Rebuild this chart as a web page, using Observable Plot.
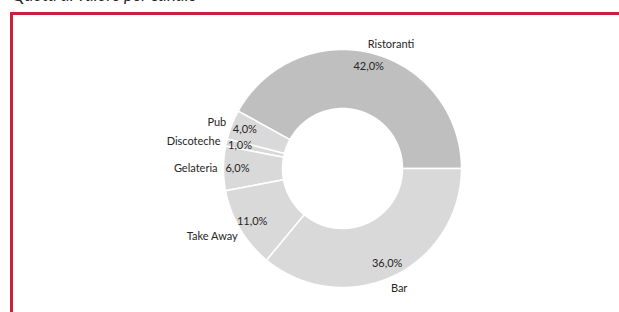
<!DOCTYPE html>
<html><head><meta charset="utf-8">
<script src="https://cdn.jsdelivr.net/npm/d3@7"></script>
<script src="https://cdn.jsdelivr.net/npm/@observablehq/plot@0.6"></script>
<style>
body{margin:0;background:#fff;width:619px;height:312px;overflow:hidden;position:relative;font-family:Lato,sans-serif}
#title{position:absolute;left:12px;top:-13px;font-size:17px;line-height:16px;font-style:italic;color:#262626;white-space:nowrap}
#frame{position:absolute;left:10px;top:12px;width:620px;height:310px;border-top:3px solid #c9203b;border-left:3px solid #c9203b}
#chart{position:absolute;left:0;top:0}
</style></head><body>
<div id="title">Quota di valore per canale</div>
<div id="frame"></div>
<div id="chart"></div>
<script>
// Data (counter-clockwise from 3 o'clock)
const categories = ["Ristoranti", "Pub", "Discoteche", "Gelateria", "Take Away", "Bar"];
const values = [42, 4, 1, 6, 11, 36];
const sliceColors = ["#bfbfbf", "#d9d9d9", "#d9d9d9", "#d9d9d9", "#d9d9d9", "#d9d9d9"];

// Layout
const W = 619, H = 312, CX = 342, CY = 168;
const R_OUT = 119, R_IN = 60, R_PCT = 105, R_NAME_L = 125, R_NAME_R = 133;
const nameAngleShift = {"Ristoranti": 7, "Take Away": -2.5};

const total = d3.sum(values);
const slices = [];
let acc = 0;
categories.forEach((c, i) => {
  const a0 = 90 - acc / total * 360;
  const a1 = a0 - values[i] / total * 360;
  acc += values[i];
  slices.push({cat: c, value: values[i], a0, a1, mid: (a0 + a1) / 2, fill: sliceColors[i]});
});
const rad = a => a * Math.PI / 180;
const pt = (r, a) => ({x: r * Math.sin(rad(a)), y: r * Math.cos(rad(a))});

const poly = [];
for (const s of slices) {
  const n = Math.max(2, Math.ceil(Math.abs(s.a0 - s.a1) / 0.5));
  for (let k = 0; k <= n; k++) { const a = s.a0 + (s.a1 - s.a0) * k / n; poly.push({...pt(R_OUT, a), cat: s.cat, fill: s.fill}); }
  for (let k = n; k >= 0; k--) { const a = s.a0 + (s.a1 - s.a0) * k / n; poly.push({...pt(R_IN, a), cat: s.cat, fill: s.fill}); }
}

const pctLabels = slices.map(s => ({...pt(R_PCT, s.mid), text: s.value.toFixed(1).replace(".", ",") + "%"}));
const nameLabels = slices.map(s => {
  const a = s.mid + (nameAngleShift[s.cat] || 0);
  const left = Math.sin(rad(a)) < 0;
  return {...pt(left ? R_NAME_L : R_NAME_R, a), text: s.cat, anchor: left ? "end" : "middle"};
});

const chart = Plot.plot({
  width: W, height: H,
  margin: 0,
  x: {domain: [-CX, W - CX], range: [0, W], axis: null},
  y: {domain: [-(H - CY), CY], range: [H, 0], axis: null},
  color: {type: "identity"},
  style: {background: "transparent", fontFamily: "Lato, sans-serif"},
  marks: [
    Plot.line(poly, {x: "x", y: "y", z: "cat", fill: "fill", stroke: "#ffffff", strokeWidth: 1.5, curve: "linear-closed"}),
    Plot.text(pctLabels, {x: "x", y: "y", text: "text", fontSize: 11, fill: "#262626"}),
    Plot.text(nameLabels.filter(d => d.anchor === "end"), {x: "x", y: "y", text: "text", textAnchor: "end", fontSize: 11, fill: "#262626"}),
    Plot.text(nameLabels.filter(d => d.anchor !== "end"), {x: "x", y: "y", text: "text", textAnchor: "middle", fontSize: 11, fill: "#262626"})
  ]
});
document.getElementById("chart").appendChild(chart);
</script>
</body></html>
